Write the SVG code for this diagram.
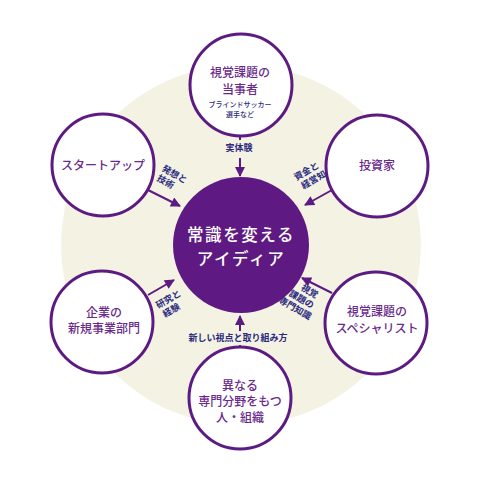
<svg xmlns="http://www.w3.org/2000/svg" width="492" height="491" viewBox="0 0 492 491">
<style>
.node{fill:#fff;stroke:#5c1a82;stroke-width:3}
.nt{font-family:"Noto Sans CJK JP",sans-serif;font-weight:500;font-size:12px;fill:#6a2a8c;text-anchor:middle}
.small{font-family:"Noto Sans CJK JP",sans-serif;font-weight:500;font-size:7px;fill:#2b2a7e;text-anchor:middle}
.lb{font-family:"Noto Sans CJK JP",sans-serif;font-weight:bold;font-size:9px;fill:#2b2a7e;text-anchor:middle}
.ct{font-family:"Noto Sans CJK JP",sans-serif;font-weight:500;font-size:16.5px;fill:#fff;text-anchor:middle;letter-spacing:1.6px}
.ar{stroke:#5c1a82;stroke-width:2;fill:none;marker-end:url(#ah)}
.ln{stroke:#5c1a82;stroke-width:2;fill:none}
</style>
<defs>
<marker id="ah" viewBox="0 0 10 10" refX="9" refY="5" markerWidth="6" markerHeight="5" orient="auto" markerUnits="strokeWidth">
<path d="M0,0 L10,5 L0,10 Z" fill="#5c1a82"/>
</marker>
</defs>
<circle cx="241" cy="245" r="180" fill="#f4f2e3"/>
<g id="connectors">
<line class="ln" x1="240" y1="136" x2="240" y2="140"/>
<line class="ar" x1="240" y1="158" x2="240" y2="176"/>
<text class="lb" x="239" y="151">実体験</text>
<line class="ln" x1="240" y1="349" x2="240" y2="345"/>
<line class="ar" x1="240" y1="331" x2="240" y2="316"/>
<text class="lb" x="238" y="341">新しい視点と取り組み方</text>
<line class="ar" x1="148" y1="190" x2="180" y2="206"/>
<text class="lb" transform="translate(173,177) rotate(30)"><tspan x="0" y="0">発想と</tspan><tspan x="-4" y="11">技術</tspan></text>
<line class="ar" x1="332" y1="190" x2="305" y2="205"/>
<text class="lb" transform="translate(308,174) rotate(-30)"><tspan x="0" y="0">資金と</tspan><tspan x="2" y="11">経営知</tspan></text>
<line class="ar" x1="148" y1="295" x2="174" y2="280"/>
<text class="lb" transform="translate(170,302) rotate(-30)"><tspan x="0" y="0">研究と</tspan><tspan x="-3" y="11">経験</tspan></text>
<line class="ar" x1="332" y1="293" x2="302" y2="278"/>
<text class="lb" transform="translate(308,294) rotate(30)"><tspan x="0" y="0">視覚</tspan><tspan x="-3" y="11">課題の</tspan><tspan x="-4" y="22">専門知識</tspan></text>
</g>
<g id="center">
<circle cx="241" cy="245" r="68" fill="#5e1a82"/>
<text class="ct" x="241" y="241">常識を変える</text>
<text class="ct" x="241" y="265">アイディア</text>
</g>
<g id="n-top">
<circle class="node" cx="241" cy="85" r="51"/>
<text class="nt" x="240" y="77">視覚課題の</text>
<text class="nt" x="240" y="94">当事者</text>
<text class="small" x="240" y="107">ブラインドサッカー</text>
<text class="small" x="240" y="117">選手など</text>
</g>
<g id="n-startup">
<circle class="node" cx="103" cy="165" r="51"/>
<text class="nt" x="103" y="170">スタートアップ</text>
</g>
<g id="n-investor">
<circle class="node" cx="377" cy="166" r="51"/>
<text class="nt" x="377" y="170">投資家</text>
</g>
<g id="n-corp">
<circle class="node" cx="102" cy="322" r="51"/>
<text class="nt" x="104" y="317">企業の</text>
<text class="nt" x="104" y="333">新規事業部門</text>
</g>
<g id="n-specialist">
<circle class="node" cx="376" cy="323" r="51"/>
<text class="nt" x="377" y="316">視覚課題の</text>
<text class="nt" x="377" y="333">スペシャリスト</text>
</g>
<g id="n-bottom">
<circle class="node" cx="240" cy="398" r="51"/>
<text class="nt" x="240" y="390">異なる</text>
<text class="nt" x="240" y="406">専門分野をもつ</text>
<text class="nt" x="240" y="422">人・組織</text>
</g>
</svg>
